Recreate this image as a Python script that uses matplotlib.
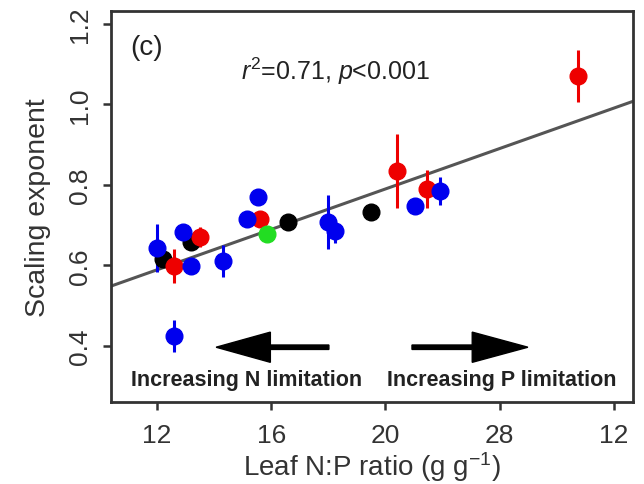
import matplotlib

matplotlib.use("Agg")
from matplotlib import pyplot as plt
import numpy as np

plt.rcParams["font.family"] = ["Liberation Sans", "DejaVu Sans"]
plt.rcParams["mathtext.fontset"] = "custom"
plt.rcParams["mathtext.rm"] = "Liberation Sans"
plt.rcParams["mathtext.it"] = "Liberation Sans:italic"

# leaf N:P ratio (tick units) / scaling exponent / error, per colour group
black_x = [12.2, 13.2, 16.6, 19.5]
black_y = [0.616, 0.658, 0.708, 0.733]
black_err = [0.02, 0.02, 0.02, 0.02]

red_x = [12.6, 13.5, 15.6, 20.4, 21.45, 26.75]
red_y = [0.599, 0.671, 0.716, 0.835, 0.790, 1.071]
red_err = [0.043, 0.025, 0.02, 0.092, 0.047, 0.065]

blue_x = [12.0, 12.9, 13.2, 14.3, 15.15, 15.55, 18.0, 18.25, 21.05, 21.9, 12.6]
blue_y = [0.643, 0.683, 0.599, 0.611, 0.716, 0.770, 0.708, 0.686, 0.748, 0.785, 0.425]
blue_err = [0.06, 0.02, 0.02, 0.04, 0.02, 0.02, 0.068, 0.03, 0.02, 0.035, 0.04]

green_x = [15.85]
green_y = [0.678]
green_err = [0.015]

# fitted regression line
fit_intercept = 0.288
fit_slope = 0.0251

xtick_pos = [12, 16, 20, 24, 28]
xtick_labels = ["12", "16", "20", "28", "12"]
ytick_pos = [0.4, 0.6, 0.8, 1.0, 1.2]

fig = plt.figure(figsize=(6.44, 4.85), dpi=100)
ax = fig.add_axes([0.1724, 0.1691, 0.8105, 0.8062])

xlim = (10.39, 28.67)
ylim = (0.261, 1.232)

xs = np.array(xlim)
ax.plot(xs, fit_intercept + fit_slope * xs, color="#555555", lw=2.2, zorder=2)

for gx, gy, ge, col in [
    (black_x, black_y, black_err, "black"),
    (red_x, red_y, red_err, "#ee0000"),
    (blue_x, blue_y, blue_err, "#0000ee"),
    (green_x, green_y, green_err, "#22dd22"),
]:
    ax.errorbar(gx, gy, yerr=ge, fmt="o", color=col, ms=12, mec=col,
                elinewidth=2.2, capsize=0, zorder=3)

# limitation arrows
ax.arrow(18.02, 0.397, -3.95, 0, width=0.011, head_width=0.075,
         head_length=1.9, length_includes_head=True, color="black", zorder=4)
ax.arrow(20.93, 0.397, 4.06, 0, width=0.011, head_width=0.075,
         head_length=1.95, length_includes_head=True, color="black", zorder=4)
ax.text(15.12, 0.316, "Increasing N limitation", ha="center", va="center",
        fontsize=15.5, fontweight="bold", color="#222222")
ax.text(24.08, 0.316, "Increasing P limitation", ha="center", va="center",
        fontsize=15.5, fontweight="bold", color="#222222")

ax.text(0.069, 0.908, "(c)", transform=ax.transAxes, ha="center", va="center",
        fontsize=20, color="#222222")
ax.text(0.429, 0.849, "$r^2$=0.71, $p$<0.001", transform=ax.transAxes,
        ha="center", va="center", fontsize=18, color="#222222")

ax.set_xlim(*xlim)
ax.set_ylim(*ylim)
ax.set_xticks(xtick_pos)
ax.set_xticklabels(xtick_labels)
ax.set_yticks(ytick_pos)
ax.set_yticklabels(["0.4", "0.6", "0.8", "1.0", "1.2"])
ax.tick_params(axis="both", direction="out", length=6, width=1.8,
               labelsize=19, colors="#333333", labelcolor="#333333")
ax.tick_params(axis="x", pad=9)
ax.tick_params(axis="y", pad=8, labelrotation=90)
for lbl in ax.get_yticklabels():
    lbl.set_va("center")

for sp in ax.spines.values():
    sp.set_linewidth(2)
    sp.set_color("#333333")

ax.set_xlabel("Leaf N:P ratio (g g$^{-1}$)", fontsize=20, color="#333333", labelpad=2)
ax.set_ylabel("Scaling exponent", fontsize=20.5, color="#333333", labelpad=12)

fig.savefig("out.png", dpi=100)
plt.close(fig)
